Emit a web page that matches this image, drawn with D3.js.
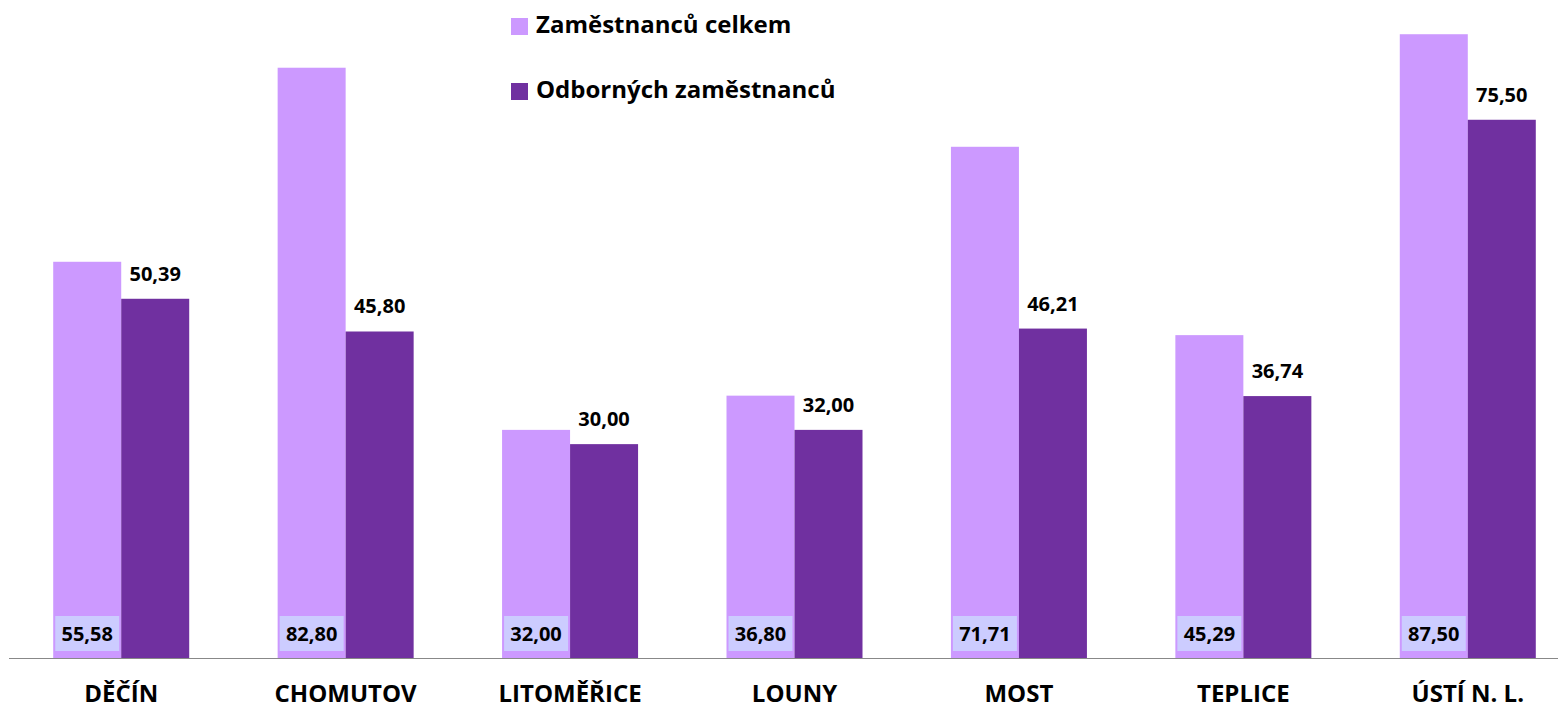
<!DOCTYPE html>
<html>
<head>
<meta charset="utf-8">
<script src="https://cdn.jsdelivr.net/npm/d3@7"></script>
<style>
  body { margin: 0; background: #fff; }
  svg { display: block; font-family: "Open Sans", Lato, sans-serif; font-weight: bold; }
</style>
</head>
<body>
<svg id="chart"></svg>
<script>
const categories = ['DĚČÍN', 'CHOMUTOV', 'LITOMĚŘICE', 'LOUNY', 'MOST', 'TEPLICE', 'ÚSTÍ N. L.'];
const totalStaff = [55.58, 82.80, 32.00, 36.80, 71.71, 45.29, 87.50];
const expertStaff = [50.39, 45.80, 30.00, 32.00, 46.21, 36.74, 75.50];
const seriesNames = ['Zaměstnanců celkem', 'Odborných zaměstnanců'];
const seriesColors = ['#CC99FF', '#7030A0'];

const width = 1558,
    height = 708,
    baseY = 658,
    barWidth = 68,
    fmt = v => v.toFixed(2).replace('.', ',');

const svg = d3.select('#chart')
    .attr('width', width)
    .attr('height', height);

// band spans past the right edge, as in the original
const x = d3.scaleBand()
    .domain(categories)
    .range([9, 1580])
    .padding(0);

const y = d3.scaleLinear()
    .domain([0, 92.3])
    .range([baseY, 0]);

const rows = categories.map((c, i) => ({ cat: c, total: totalStaff[i], expert: expertStaff[i] }));
const center = d => x(d.cat) + x.bandwidth() / 2;

// light bars
svg.selectAll('.bar-total')
    .data(rows)
    .join('rect')
    .attr('class', 'bar-total')
    .attr('x', d => center(d) - barWidth)
    .attr('y', d => y(d.total))
    .attr('width', barWidth)
    .attr('height', d => baseY - y(d.total))
    .attr('fill', seriesColors[0]);

// dark bars
svg.selectAll('.bar-expert')
    .data(rows)
    .join('rect')
    .attr('class', 'bar-expert')
    .attr('x', d => center(d))
    .attr('y', d => y(d.expert))
    .attr('width', barWidth)
    .attr('height', d => baseY - y(d.expert))
    .attr('fill', seriesColors[1]);

// axis line
svg.append('line')
    .attr('x1', 9).attr('x2', width)
    .attr('y1', baseY + 0.5).attr('y2', baseY + 0.5)
    .attr('stroke', '#888').attr('stroke-width', 1);

// total labels in boxes at the bottom of the light bars
const boxes = svg.selectAll('.total-label')
    .data(rows)
    .join('g')
    .attr('class', 'total-label');

boxes.append('rect')
    .attr('x', d => center(d) - barWidth + 2)
    .attr('y', 616)
    .attr('width', barWidth - 4)
    .attr('height', 35)
    .attr('fill', '#CCCCFF');

boxes.append('text')
    .attr('x', d => center(d) - barWidth / 2)
    .attr('y', 641)
    .attr('text-anchor', 'middle')
    .attr('font-size', 20)
    .attr('fill', '#000')
    .text(d => fmt(d.total));

// expert labels above the dark bars
svg.selectAll('.expert-label')
    .data(rows)
    .join('text')
    .attr('class', 'expert-label')
    .attr('x', d => center(d) + barWidth / 2)
    .attr('y', d => y(d.expert) - 18)
    .attr('text-anchor', 'middle')
    .attr('font-size', 20)
    .attr('fill', '#000')
    .text(d => fmt(d.expert));

// category labels
svg.selectAll('.cat-label')
    .data(rows)
    .join('text')
    .attr('class', 'cat-label')
    .attr('x', d => center(d))
    .attr('y', 702)
    .attr('text-anchor', 'middle')
    .attr('font-size', 24)
    .attr('fill', '#000')
    .text(d => d.cat);

// legend
const legend = svg.selectAll('.legend')
    .data(seriesNames)
    .join('g')
    .attr('class', 'legend')
    .attr('transform', (d, i) => 'translate(511,' + (18 + i * 65) + ')');

legend.append('rect')
    .attr('width', 17).attr('height', 17)
    .attr('fill', (d, i) => seriesColors[i]);

legend.append('text')
    .attr('x', 25)
    .attr('y', 15)
    .attr('font-size', 24)
    .attr('fill', '#000')
    .text(d => d);
</script>
</body>
</html>
